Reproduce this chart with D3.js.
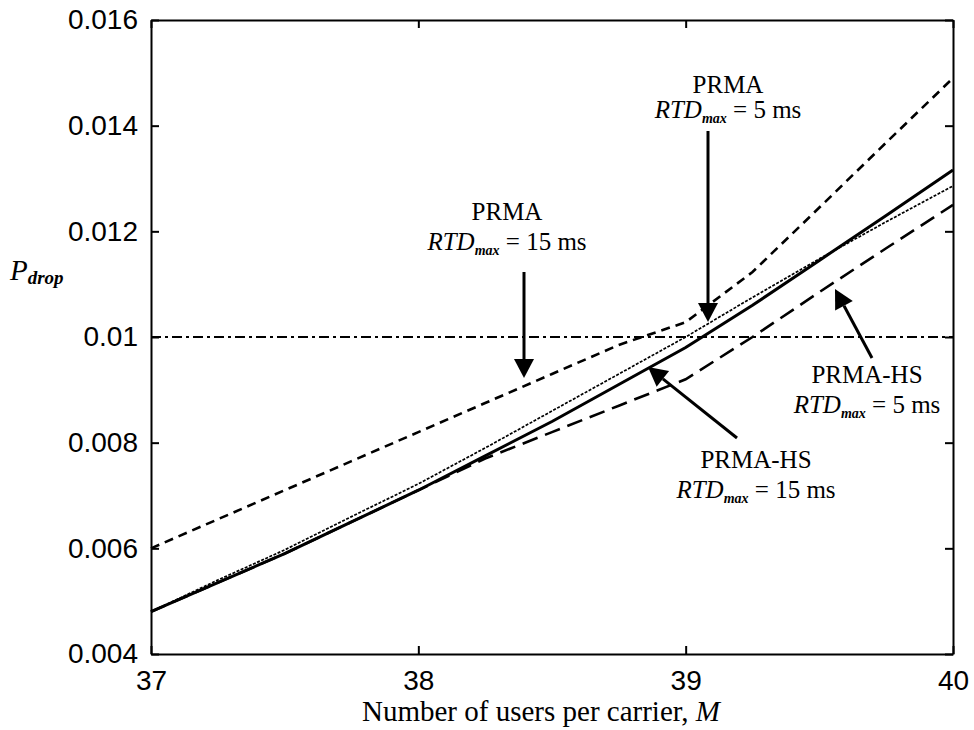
<!DOCTYPE html>
<html>
<head>
<meta charset="utf-8">
<script src="https://cdn.jsdelivr.net/npm/d3@7"></script>
<style>
  html, body { margin: 0; padding: 0; background: #fff; }
  svg { display: block; }
</style>
</head>
<body>
<svg id="chart" width="974" height="730"></svg>
<script>
// ---- data ----
const users = [37, 37.25, 37.5, 37.75, 38, 38.25, 38.5, 38.75, 39, 39.25, 39.5, 39.75, 40];
const prma15 = [0.0060, 0.00655, 0.0071, 0.00765, 0.0082, 0.00875, 0.0093, 0.00985, 0.01028, 0.01123, 0.01245, 0.01368, 0.0149];
const prma5 = [0.0048, 0.0054, 0.00597, 0.0066, 0.00722, 0.0079, 0.0086, 0.0093, 0.0100, 0.01075, 0.01148, 0.01218, 0.01286];
const prmahs15 = [0.0048, 0.00535, 0.0059, 0.0065, 0.0071, 0.00775, 0.0084, 0.0091, 0.0098, 0.0106, 0.01145, 0.0123, 0.01316];
const prmahs5 = [0.0048, 0.00535, 0.0059, 0.0065, 0.0071, 0.0077, 0.0082, 0.0087, 0.0092, 0.0100, 0.01085, 0.01168, 0.0125];
const threshold = 0.01;
const xTicks = [37, 38, 39, 40];
const yTicks = [0.004, 0.006, 0.008, 0.010, 0.012, 0.014, 0.016];
const yTickLabels = ["0.004", "0.006", "0.008", "0.01", "0.012", "0.014", "0.016"];

// ---- layout ----
const L = 151, R = 953, T = 20, B = 654;
const svg = d3.select("#chart");
const x = d3.scaleLinear().domain([37, 40]).range([L, R]);
const y = d3.scaleLinear().domain([0.004, 0.016]).range([B, T]);

const sans = "'Liberation Sans', Arial, sans-serif";
const serif = "'Liberation Serif', 'Times New Roman', serif";

// axes (inward ticks)
const axisStyle = g => {
  g.select(".domain").attr("stroke", "#000").attr("stroke-width", 2);
  g.selectAll(".tick line").attr("stroke", "#000").attr("stroke-width", 2);
  g.selectAll(".tick text").attr("fill", "#000").style("font-family", sans).style("font-size", "28px");
};
svg.append("g").attr("transform", `translate(0,${B})`)
  .call(d3.axisBottom(x).tickValues(xTicks).tickFormat(d3.format("d")).tickSizeInner(-8).tickSizeOuter(0).tickPadding(16))
  .call(axisStyle);
svg.append("g").attr("transform", `translate(0,${T})`)
  .call(d3.axisTop(x).tickValues(xTicks).tickFormat("").tickSizeInner(-8).tickSizeOuter(0))
  .call(axisStyle);
svg.append("g").attr("transform", `translate(${L},0)`)
  .call(d3.axisLeft(y).tickValues(yTicks).tickFormat((d, i) => yTickLabels[i]).tickSizeInner(-8).tickSizeOuter(0).tickPadding(13))
  .call(axisStyle);
svg.append("g").attr("transform", `translate(${R},0)`)
  .call(d3.axisRight(y).tickValues(yTicks).tickFormat("").tickSizeInner(-8).tickSizeOuter(0))
  .call(axisStyle);

// threshold dash-dot
svg.append("line")
  .attr("x1", x(37)).attr("x2", x(40)).attr("y1", y(threshold)).attr("y2", y(threshold))
  .attr("stroke", "#000").attr("stroke-width", 2).attr("stroke-dasharray", "10,4,3,4");

// series
const line = d3.line().x((d, i) => x(users[i])).y(d => y(d));
const series = [
  { v: prma5, w: 1.7, dash: "3,1.5" },
  { v: prmahs5, w: 2.6, dash: "16,8" },
  { v: prmahs15, w: 3, dash: null },
  { v: prma15, w: 2.6, dash: "9,6" }
];
series.forEach(s => {
  svg.append("path").datum(s.v).attr("d", line)
    .attr("fill", "none").attr("stroke", "#000").attr("stroke-width", s.w)
    .attr("stroke-dasharray", s.dash);
});

// annotations
function label(cx, y1, y2, top, small) {
  svg.append("text").attr("x", cx).attr("y", y1).attr("text-anchor", "middle")
    .style("font-family", serif).style("font-size", "25px").text(top);
  const t2 = svg.append("text").attr("x", cx).attr("y", y2).attr("text-anchor", "middle")
    .style("font-family", serif).style("font-size", "25px");
  t2.append("tspan").style("font-style", "italic").text("RTD");
  t2.append("tspan").style("font-style", "italic").style("font-weight", "bold").style("font-size", "14px").attr("dy", 5).text("max");
  t2.append("tspan").attr("dy", -5).text(" = " + small);
}
label(507, 220, 250, "PRMA", "15 ms");
label(728, 93, 118, "PRMA", "5 ms");
label(867, 383, 413, "PRMA-HS", "5 ms");
label(756, 468, 498, "PRMA-HS", "15 ms");

function arrow(x1, y1, x2, y2) {
  const ang = Math.atan2(y2 - y1, x2 - x1);
  const len = 19, hw = 10;
  const bx = x2 - len * Math.cos(ang), by = y2 - len * Math.sin(ang);
  svg.append("line").attr("x1", x1).attr("y1", y1).attr("x2", bx).attr("y2", by)
    .attr("stroke", "#000").attr("stroke-width", 3);
  const px = -Math.sin(ang) * hw, py = Math.cos(ang) * hw;
  svg.append("path")
    .attr("d", `M${x2},${y2}L${bx + px},${by + py}L${bx - px},${by - py}Z`)
    .attr("fill", "#000");
}
arrow(524, 272, 524, 378);
arrow(708, 131, 708, 322);
arrow(872, 358, 835, 289);
arrow(737, 438, 648, 367);

// axis titles
const yl = svg.append("text").attr("x", 10).attr("y", 280).style("font-family", serif).style("font-style", "italic");
yl.append("tspan").style("font-size", "29px").text("P");
yl.append("tspan").style("font-size", "19px").style("font-weight", "bold").attr("dy", 4).text("drop");

const xl = svg.append("text").attr("x", 541).attr("y", 721).attr("text-anchor", "middle")
  .style("font-family", serif).style("font-size", "29px");
xl.append("tspan").text("Number of users per carrier, ");
xl.append("tspan").style("font-style", "italic").text("M");
</script>
</body>
</html>
